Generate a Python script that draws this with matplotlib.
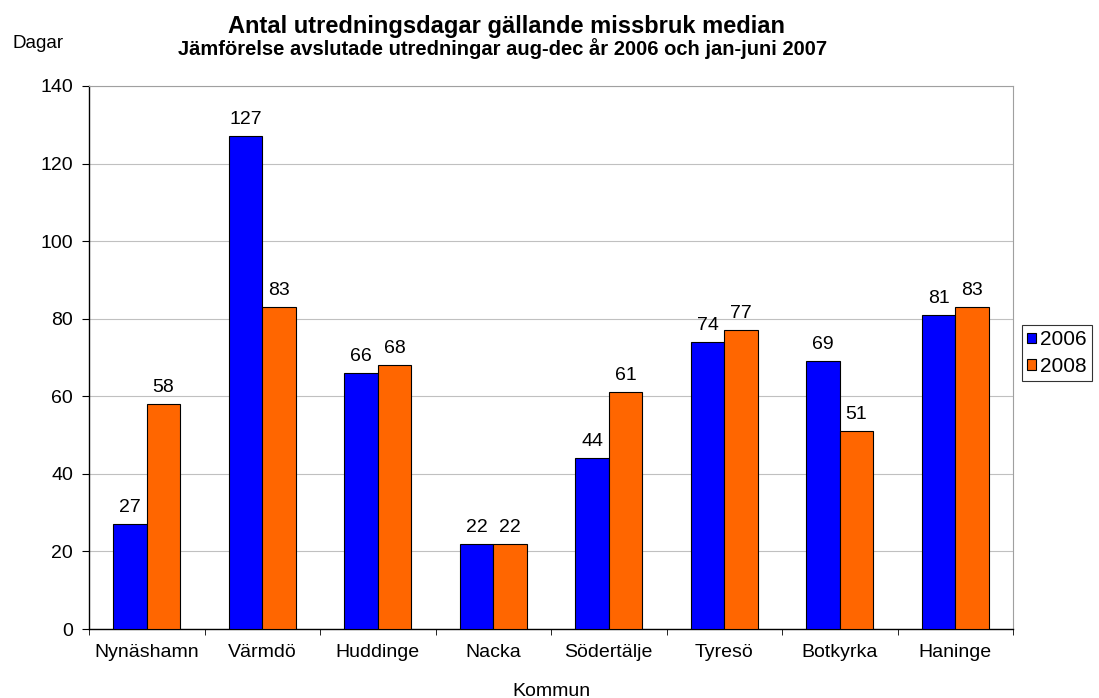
import matplotlib
matplotlib.use("Agg")
import matplotlib.pyplot as plt
import numpy as np

plt.rcParams['font.family'] = ['Liberation Sans', 'DejaVu Sans']

categories = ["Nynäshamn", "Värmdö", "Huddinge", "Nacka", "Södertälje", "Tyresö", "Botkyrka", "Haninge"]
values_2006 = [27, 127, 66, 22, 44, 74, 69, 81]
values_2008 = [58, 83, 68, 22, 61, 77, 51, 83]
series_labels = ["2006", "2008"]
yticks = [0, 20, 40, 60, 80, 100, 120, 140]

W, H = 1099, 698
fig = plt.figure(figsize=(W/100, H/100), dpi=100)
ax = fig.add_axes([89/W, 1-629/H, (1013-89)/W, (629-86)/H])

x = np.arange(len(categories))
w = 0.29
b1 = ax.bar(x - w/2, values_2006, w, color='#0000FF', edgecolor='black', linewidth=0.8, label=series_labels[0], zorder=3)
b2 = ax.bar(x + w/2, values_2008, w, color='#FF6600', edgecolor='black', linewidth=0.8, label=series_labels[1], zorder=3)

for bars, vals in ((b1, values_2006), (b2, values_2008)):
    for r, v in zip(bars, vals):
        ax.text(r.get_x() + r.get_width()/2, v + 3.1, str(v), ha='center', va='baseline', fontsize=14)

ax.set_xlim(-0.5, len(categories) - 0.5)
ax.set_ylim(0, 140)
ax.set_yticks(yticks)
ax.set_yticklabels([str(t) for t in yticks], fontsize=14)
ax.yaxis.grid(True, color='#C0C0C0', linewidth=0.8, zorder=0)
ax.set_axisbelow(True)

ax.set_xticks(x)
ax.set_xticklabels(categories, fontsize=14)
ax.tick_params(axis='x', length=0, pad=11)
ax.set_xticks(np.arange(len(categories) + 1) - 0.5, minor=True)
ax.tick_params(axis='x', which='minor', length=4.5, direction='out', color='black')
ax.tick_params(axis='y', length=5, direction='out', pad=6.5)

for s in ('left', 'bottom'):
    ax.spines[s].set_color('black')
    ax.spines[s].set_linewidth(1.0)
for s in ('right', 'top'):
    ax.spines[s].set_color('#A0A0A0')
    ax.spines[s].set_linewidth(0.8)

fig.text(506/W, 1-33/H, "Antal utredningsdagar gällande missbruk median", ha='center', va='baseline',
         fontsize=17, fontweight='bold')
fig.text(503/W, 1-55/H, "Jämförelse avslutade utredningar aug-dec år 2006 och jan-juni 2007", ha='center', va='baseline',
         fontsize=14.5, fontweight='bold')
fig.text(12/W, 1-48/H, "Dagar", ha='left', va='baseline', fontsize=13.5)
fig.text(551/W, 1-696/H, "Kommun", ha='center', va='baseline', fontsize=14)

leg = fig.legend(handles=[b1, b2], labels=series_labels, loc='upper left', bbox_to_anchor=(1022/W, 1-325/H),
                 fontsize=15, frameon=True, fancybox=False, edgecolor='black', handlelength=0.4, handleheight=0.4,
                 handletextpad=0.2, borderpad=0.25, labelspacing=0.38, borderaxespad=0)
leg.get_frame().set_linewidth(0.8)

fig.savefig("out.png", dpi=100)
